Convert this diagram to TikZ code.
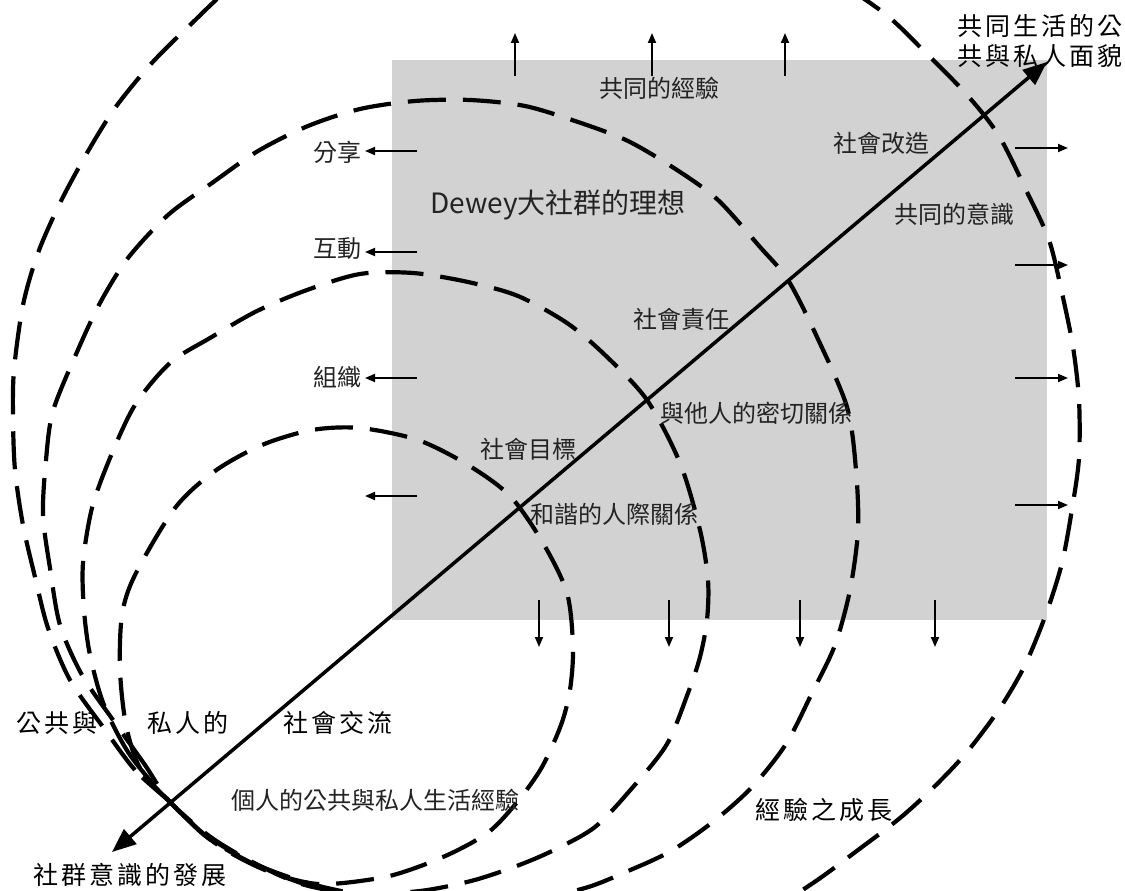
\documentclass[tikz,border=0pt]{standalone}
\usepackage{fontspec}
\newfontfamily\cjk{Noto Sans CJK TC}
\newfontfamily\cjkwide[LetterSpace=12]{Noto Sans CJK TC}
\usetikzlibrary{arrows.meta}
\definecolor{boxgray}{RGB}{210,210,210}
\definecolor{txt}{RGB}{35,35,35}
\begin{document}
\begin{tikzpicture}[x=1pt,y=-1pt,
  lbl/.style={font=\cjk\fontsize{24}{28}\selectfont, text=txt, inner sep=0pt},
  wlbl/.style={font=\cjkwide\fontsize{25}{30}\selectfont, text=black, inner sep=0pt, align=center},
  dashloop/.style={line width=4.2pt, dash pattern=on 38pt off 17pt},
  smallarrow/.style={line width=1.8pt, -{Triangle[length=10pt,width=8pt]}},
  bigarrow/.style={line width=3.5pt, {Triangle[length=24pt,width=19pt]}-{Triangle[length=24pt,width=19pt]}}]
\useasboundingbox (0,0) rectangle (1125,891);
\fill[white] (0,0) rectangle (1125,891);
\fill[boxgray] (392,60) rectangle (1047,620);

\begin{scope}
\clip (0,0) rectangle (1125,891);
% curve 1 (outermost)
\draw[dashloop] plot[smooth cycle] coordinates {
 (170,802) (135,770) (103,727) (70,680) (48,628) (35,577) (23,525) (15,470) (13,417) (14,370)
 (23,305) (38,253) (60,203) (87,153) (115,108) (150,65) (188,27) (240,-20) (330,-75)
 (450,-105) (570,-108) (690,-85) (800,-40) (880,10) (925,52) (968,96) (999,136)
 (1027,192) (1049,240) (1062,293) (1073,347) (1079,400) (1079,458) (1072,509)
 (1062,563) (1046,614) (1025,665) (1000,708) (967,752) (934,787) (900,818) (858,850)
 (810,885) (750,920) (650,945) (550,945) (450,925) (370,902) (310,886) (258,866) (208,838)};
% curve 2
\draw[dashloop] plot[smooth cycle] coordinates {
 (170,802) (145,765) (113,720) (82,675) (60,625) (50,568) (43,515) (46,460) (53,411)
 (77,352) (100,303) (128,258) (168,215) (212,183) (258,151) (308,126) (360,109) (415,101)
 (470,100) (525,106) (578,122) (628,141) (677,170) (718,200) (760,247) (788,280) (817,337)
 (847,407) (856,470) (858,530) (850,590) (835,645) (812,693) (786,744) (752,787) (714,821)
 (671,851) (628,871) (585,888) (520,902) (450,905) (380,898) (315,885) (260,866) (210,838)};
% curve 3
\draw[dashloop] plot[smooth cycle] coordinates {
 (170,802) (130,755) (104,705) (90,655) (84,610) (83,563) (92,508) (110,458) (135,405)
 (170,363) (210,338) (257,311) (307,290) (360,274) (413,273) (468,282) (518,296) (567,323)
 (605,355) (647,400) (680,463) (700,530) (708,580) (707,620) (700,657) (688,693) (667,744)
 (633,787) (595,827) (552,851) (514,867) (471,881) (420,891) (360,894) (305,885) (260,866) (212,838)};
% curve 4 (innermost)
\draw[dashloop] plot[smooth cycle] coordinates {
 (170,802) (140,768) (126,725) (120,670) (122,615) (135,575) (175,508) (215,471) (262,445)
 (312,430) (360,428) (418,440) (468,465) (510,496) (543,543) (567,593) (573,647) (570,690)
 (561,725) (542,767) (518,801) (490,831) (456,851) (418,867) (380,878) (318,884) (265,870) (215,843)};
\end{scope}

% main diagonal arrow
\coordinate (dtail) at (112,852);
\coordinate (dtip) at (1047,62);
\draw[bigarrow] (dtail) -- (dtip);

% left arrows
\foreach \i/\y in {1/151,2/252,3/378,4/496}{
  \coordinate (ls\i) at (417,\y); \coordinate (le\i) at (365,\y);
  \draw[smallarrow] (ls\i) -- (le\i);}
% top arrows
\foreach \i/\x in {1/515,2/652,3/785}{
  \coordinate (ts\i) at (\x,76); \coordinate (te\i) at (\x,33);
  \draw[smallarrow] (ts\i) -- (te\i);}
% bottom arrows
\foreach \i/\x in {1/539,2/669,3/800,4/935}{
  \coordinate (bs\i) at (\x,600); \coordinate (be\i) at (\x,647);
  \draw[smallarrow] (bs\i) -- (be\i);}
% right arrows
\foreach \i/\y in {1/148,2/265,3/378,4/505}{
  \coordinate (rs\i) at (1015,\y); \coordinate (re\i) at (1068,\y);
  \draw[smallarrow] (rs\i) -- (re\i);}

% labels
\node[lbl] (share) at (337,152) {分享};
\node[lbl] (interact) at (337,249) {互動};
\node[lbl] (organize) at (337,377) {組織};
\node[lbl] (commonexp) at (659,88) {共同的經驗};
\node[font=\cjk\fontsize{28}{32}\selectfont, text=txt, inner sep=0pt] (dewey) at (558,205) {Dewey大社群的理想};
\node[lbl] (reform) at (881,143) {社會改造};
\node[lbl] (commoncon) at (954,214) {共同的意識};
\node[lbl] (resp) at (681,319) {社會責任};
\node[lbl] (close) at (756,413) {與他人的密切關係};
\node[lbl] (goal) at (528,449) {社會目標};
\node[lbl] (harmony) at (614,514) {和諧的人際關係};
\node[lbl] (personal) at (375,800) {個人的公共與私人生活經驗};

\node[wlbl] (pub) at (57,723) {公共與};
\node[wlbl] (priv) at (188,723) {私人的};
\node[wlbl] (social) at (338,723) {社會交流};
\node[wlbl] (develop) at (130,875) {社群意識的發展};
\node[wlbl] (growth) at (824,810) {經驗之成長};
\node[wlbl] (publife) at (1040,41) {共同生活的公\\共與私人面貌};
\end{tikzpicture}
\end{document}
